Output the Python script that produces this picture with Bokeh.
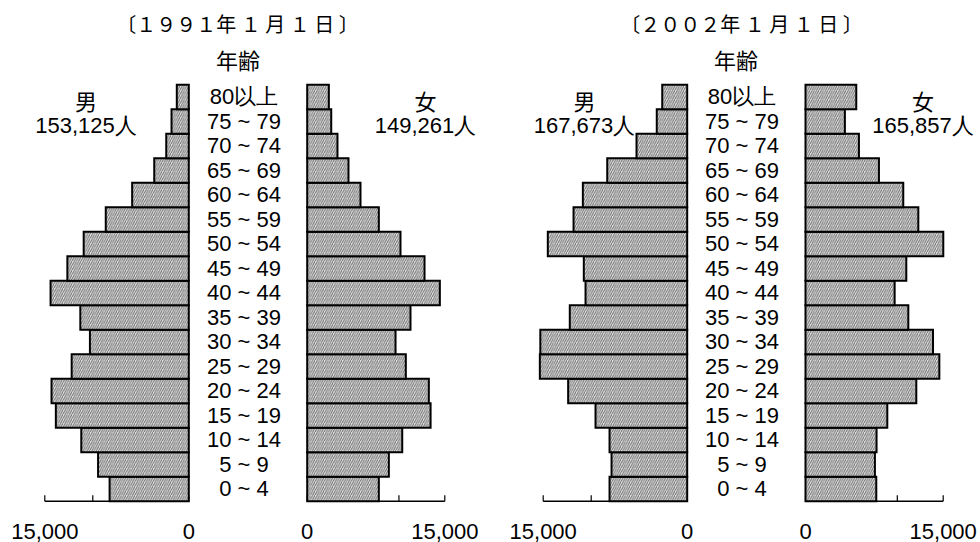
from bokeh.plotting import figure
from bokeh.models import Range1d
from bokeh.core.properties import value
from bokeh.embed import file_html
from bokeh.resources import INLINE

# ---------------- data ----------------
age_groups = ["0 ~ 4", "5 ~ 9", "10 ~ 14", "15 ~ 19", "20 ~ 24", "25 ~ 29", "30 ~ 34",
              "35 ~ 39", "40 ~ 44", "45 ~ 49", "50 ~ 54", "55 ~ 59", "60 ~ 64",
              "65 ~ 69", "70 ~ 74", "75 ~ 79", "80以上"]
male_1991 = [8250, 9450, 11200, 13850, 14300, 12200, 10300, 11300, 14400, 12650,
             10950, 8650, 5900, 3600, 2350, 1800, 1250]
female_1991 = [7810, 8900, 10360, 13450, 13260, 10750, 9630, 11260, 14460, 12790,
               10170, 7810, 5810, 4500, 3300, 2620, 2360]
male_2002 = [8090, 7880, 8090, 9550, 12400, 15350, 15300, 12230, 10590, 10770,
             14520, 11840, 10870, 8330, 5280, 3170, 2600]
female_2002 = [7710, 7560, 7740, 8910, 12070, 14580, 13890, 11200, 9710, 10980,
               15010, 12290, 10650, 8000, 5820, 4290, 5530]
years = [1991, 2002]
male_totals = [153125, 167673]
female_totals = [149261, 165857]
axis_ticks = [0, 5000, 10000, 15000]
labelled_ticks = [0, 15000]

# ---------------- layout ----------------
W, H = 980, 542
FONT = value("Liberation Sans")
CJK = value("Noto Sans CJK JP")

ROW_H = 24.5
BASE_Y = 500.7   # pixel y of the bottom edge of the first age row


def linear_range(v0, s0, v1, s1, smin, smax):
    slope = (s1 - s0) / (v1 - v0)
    return Range1d(start=v0 + (smin - s0) / slope, end=v0 + (smax - s0) / slope)


p = figure(width=W, height=H, output_backend="svg", toolbar_location=None,
           x_axis_type=None, y_axis_type=None, min_border=0,
           x_range=Range1d(0, W), y_range=Range1d(H, 0))
p.outline_line_color = None
p.background_fill_color = "white"
p.border_fill_color = "white"

# age range: index i -> centre at BASE_Y - (i + 0.5) * ROW_H
p.extra_y_ranges = {"age": linear_range(-0.5, BASE_Y, 0.5, BASE_Y - ROW_H, H, 0)}

panels = [
    dict(male=male_1991, female=female_1991, m0=188.3, m15=44.3, f0=306.7, f15=444.3,
         mid=243.5, title_x=237, sexm_x=85.5, sexf_x=425),
    dict(male=male_2002, female=female_2002, m0=686.7, m15=542.7, f0=805.0, f15=942.7,
         mid=741.5, title_x=741, sexm_x=584, sexf_x=922.5),
]

idx = list(range(len(age_groups)))
fullwidth = str.maketrans("0123456789", "０１２３４５６７８９")

for k, pan in enumerate(panels):
    mname, fname = f"m{k}", f"f{k}"
    p.extra_x_ranges[mname] = linear_range(0, pan["m0"], 15000, pan["m15"], 0, W)
    p.extra_x_ranges[fname] = linear_range(0, pan["f0"], 15000, pan["f15"], 0, W)

    for rname, vals in ((mname, pan["male"]), (fname, pan["female"])):
        # axis line and inward ticks
        p.segment(x0=[axis_ticks[0]], x1=[axis_ticks[-1]], y0=[BASE_Y], y1=[BASE_Y],
                  x_range_name=rname, line_color="black", line_width=1.5)
        p.segment(x0=axis_ticks, x1=axis_ticks, y0=[BASE_Y] * len(axis_ticks),
                  y1=[BASE_Y - 6] * len(axis_ticks), x_range_name=rname,
                  line_color="black", line_width=1.2)
        p.text(x=labelled_ticks, y=[530.5] * len(labelled_ticks),
               text=[f"{t:,}" for t in labelled_ticks], x_range_name=rname,
               text_font=FONT, text_font_size="22px", text_color="black",
               text_align="center", text_baseline="middle")
        # bars
        p.hbar(y=idx, left=0, right=vals, height=1.0, x_range_name=rname,
               y_range_name="age", fill_color="#e2e2e2", line_color="black",
               line_width=2, line_join="miter",
               hatch_pattern="/", hatch_color="#6e6e6e", hatch_scale=4.5,
               hatch_weight=1.0)

    # age labels
    p.text(x=[pan["mid"]] * len(age_groups), y=idx, text=age_groups,
           y_range_name="age", text_font=FONT, text_font_size="22px",
           text_color="black", text_align="center", text_baseline="middle")

    # titles
    title = "〔" + str(years[k]).translate(fullwidth) + "年 １ 月 １ 日 〕"
    p.text(x=[pan["title_x"]], y=[23], text=[title], text_font=CJK,
           text_font_size="20px", text_color="black", text_align="center",
           text_baseline="middle")
    p.text(x=[pan["mid"] - 6], y=[58], text=["年齢"], text_font=CJK,
           text_font_size="22px", text_color="black", text_align="center",
           text_baseline="middle")

    # sex labels and totals
    p.text(x=[pan["sexm_x"], pan["sexf_x"]], y=[99, 99], text=["男", "女"],
           text_font=CJK, text_font_size="22px", text_color="black",
           text_align="center", text_baseline="middle")
    p.text(x=[pan["sexm_x"], pan["sexf_x"]], y=[124.5, 124.5],
           text=[f"{male_totals[k]:,}人", f"{female_totals[k]:,}人"],
           text_font=FONT, text_font_size="22px", text_color="black",
           text_align="center", text_baseline="middle")

open("out.html", "w").write(file_html(p, INLINE))
